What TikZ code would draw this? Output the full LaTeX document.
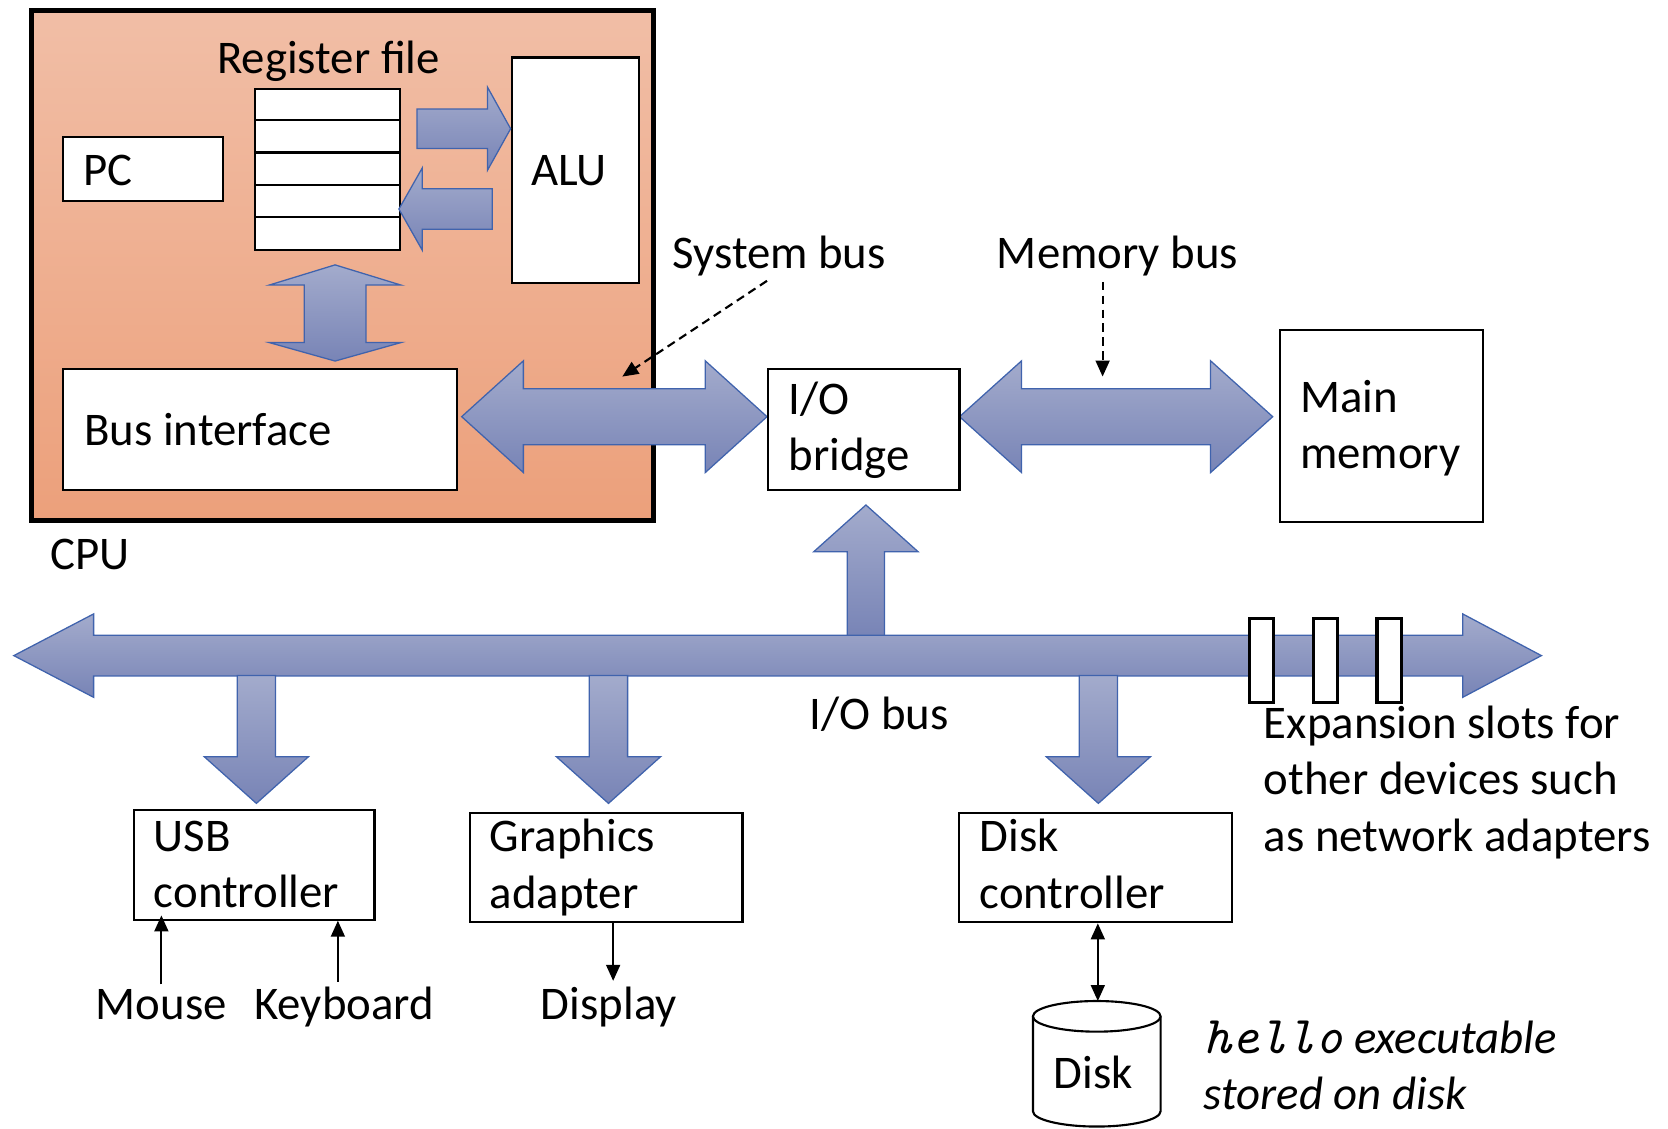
\documentclass[tikz,border=0pt]{standalone}
\usepackage{fontspec}
\setmainfont{Carlito}
\usetikzlibrary{arrows.meta}

\definecolor{cpuTop}{HTML}{F1BEA6}
\definecolor{cpuBot}{HTML}{ECA07B}
\definecolor{busTop}{HTML}{A3ABCC}
\definecolor{busBot}{HTML}{7884B6}
\definecolor{busLine}{HTML}{4063AD}

% horizontal double block arrow: left tip x, left base x, right base x, right tip x, centre y, head half, shaft half
\newcommand{\hdblock}[7]{%
  \path[busarrow] (#1,#5) -- (#2,#5-#6) -- (#2,#5-#7) -- (#3,#5-#7) -- (#3,#5-#6)
    -- (#4,#5) -- (#3,#5+#6) -- (#3,#5+#7) -- (#2,#5+#7) -- (#2,#5+#6) -- cycle;}
% downward block arrow: centre x, top y, head base y, tip y, head half, shaft half
\newcommand{\downblock}[6]{%
  \path[busarrow] (#1-#6,#2) -- (#1+#6,#2) -- (#1+#6,#3) -- (#1+#5,#3) -- (#1,#4)
    -- (#1-#5,#3) -- (#1-#6,#3) -- cycle;}

\tikzset{
  busarrow/.style={draw=busLine, line width=1.2pt, top color=busTop, bottom color=busBot, line join=miter},
  box/.style={draw, line width=2pt, fill=white, inner sep=0pt, anchor=north west},
  slotbox/.style={draw, line width=3pt, fill=white, inner sep=0pt, anchor=north west,
    minimum width=23pt, minimum height=79pt},
  lbl/.style={inner sep=0pt, anchor=base west, align=left},
  thinarrow/.style={line width=2pt, -{Triangle[length=15pt,width=13pt]}},
  thindbl/.style={line width=2pt, {Triangle[length=15pt,width=13pt]}-{Triangle[length=15pt,width=13pt]}},
  pointer/.style={line width=2pt, dash pattern=on 8pt off 5pt, -{Triangle[length=15pt,width=13pt]}},
}

\begin{document}
\begin{tikzpicture}[x=1pt, y=-1pt, font=\fontsize{44}{53}\selectfont]
\useasboundingbox (0,0) rectangle (1568,1061);

% CPU package
\path[top color=cpuTop, bottom color=cpuBot] (29.5,10) rectangle (614,489);
\draw[line width=5pt] (29.5,10) rectangle (614,489);
\node[lbl] (cpulbl) at (47,535) {CPU};

% register file
\node[lbl] (regtitle) at (204,69) {Register file};
\node[box, minimum width=136pt, minimum height=151pt] (regs) at (239,83) {};
\foreach \yy in {113.2,143.4,173.6,203.8}
  \draw[line width=2pt] (regs.west |- 0,\yy) -- (regs.east |- 0,\yy);

\node[box, minimum width=151pt, minimum height=60pt] (pc) at (58,128) {};
\node[lbl] (pctext) at (78,174.5) {PC};

\node[box, minimum width=120pt, minimum height=212pt] (alu) at (480,53) {};
\node[lbl] (alutext) at (499,174.5) {ALU};

% register file <-> ALU
\path[busarrow] (392,102.5) -- (458.3,102.5) -- (458.3,82) -- (480,121) -- (458.3,160)
  -- (458.3,139.6) -- (392,139.6) -- cycle;
\path[busarrow] (375,196.5) -- (397,157.8) -- (397,177.4) -- (462.8,177.4) -- (462.8,215.5)
  -- (397,215.5) -- (397,235.3) -- cycle;

% register file <-> bus interface
\path[busarrow] (315,249) -- (377,268) -- (344,268) -- (344,322) -- (377,322) -- (315,339.4)
  -- (253,322) -- (286,322) -- (286,268) -- (253,268) -- cycle;

\node[box, minimum width=371pt, minimum height=114pt] (busif) at (58,346) {};
\node[lbl] (busiftext) at (79,419) {Bus interface};

% system bus and memory bus
\hdblock{434}{492}{663}{721}{391.7}{52.5}{26.3}
\hdblock{902}{960.3}{1138}{1196.4}{391.7}{52.5}{26.3}

% multi-line labels are placed by the baseline of their last line
\node[box, minimum width=180pt, minimum height=114pt] (bridge) at (721,346) {};
\node[lbl] (bridgetext) at (741,442.5) {I/O\\bridge};

\node[box, minimum width=191pt, minimum height=180pt] (mem) at (1202,309.5) {};
\node[lbl] (memtext) at (1222,440.3) {Main\\memory};

\node[lbl] (sysbus) at (632,252) {System bus};
\node[lbl] (membus) at (937,252) {Memory bus};
\coordinate (sysbustip) at (585,354);
\coordinate (membustip) at (1036.5,354);
\coordinate (sysbusfoot) at (721,264);
\coordinate (membusfoot) at (1036.5,265);
\draw[pointer] (sysbusfoot) -- (sysbustip);
\draw[pointer] (membusfoot) -- (membustip);

% I/O bus
\path[busarrow] (796.5,598) -- (796.5,518.6) -- (765,518.6) -- (814,474.7) -- (863,518.6)
  -- (831.5,518.6) -- (831.5,598) -- cycle;
\hdblock{13}{88}{1375}{1449}{616.3}{39.2}{19.1}
\downblock{241}{635}{711.3}{755.2}{49}{18}
\downblock{572}{635}{711.3}{755.2}{49}{18}
\downblock{1032.5}{635}{711.3}{755.2}{49}{18}

\node[slotbox] (slot1) at (1173,580) {};
\node[slotbox] (slot2) at (1233,580) {};
\node[slotbox] (slot3) at (1293,580) {};

\node[lbl] (iobus) at (761,686) {I/O bus};
\node[lbl] (slotstext) at (1188,800) {Expansion slots for\\other devices such\\as network adapters};

% controllers
\node[box, minimum width=226pt, minimum height=103pt] (usb) at (125,760.5) {};
\node[lbl] (usbtext) at (144.5,853.2) {USB\\controller};
\node[box, minimum width=256pt, minimum height=103pt] (gfx) at (441,763) {};
\node[lbl] (gfxtext) at (460.4,853.9) {Graphics\\adapter};
\node[box, minimum width=257pt, minimum height=103pt] (dctl) at (900.5,763) {};
\node[lbl] (dctltext) at (920.8,853.9) {Disk\\controller};

% peripherals
\node[lbl] (mouse) at (90,958.8) {Mouse};
\node[lbl] (kbd) at (239,958.8) {Keyboard};
\node[lbl] (display) at (508.3,958.8) {Display};

\draw[thinarrow] ([yshift=5pt]mouse.north) -- ([yshift=5pt]mouse.north |- usb.south);
\draw[thinarrow] ([xshift=-6pt,yshift=5pt]kbd.north) -- ([xshift=-6pt]kbd.north |- usb.south);
\draw[thinarrow] ([xshift=4pt]display.north |- gfx.south) -- ([xshift=4pt,yshift=6pt]display.north);

% disk
\path[draw, line width=2pt, fill=white] (971,955.4) -- (971,1044.6)
  arc[start angle=180, end angle=0, x radius=60, y radius=14.4] -- (1091,955.4);
\draw[line width=2pt, fill=white] (1031,955.4) ellipse[x radius=60, y radius=14.4];
\node[lbl] (disk) at (990.5,1023) {Disk};
\coordinate (disktop) at (1032,941);
\draw[thindbl] (disktop |- dctl.south) -- (disktop);

\node[lbl] (hello) at (1131.5,1043.4) {{\fontsize{50}{53}\selectfont\ttfamily\itshape hello}\hspace{10pt}\itshape executable\\\itshape stored on disk};
\end{tikzpicture}
\end{document}
